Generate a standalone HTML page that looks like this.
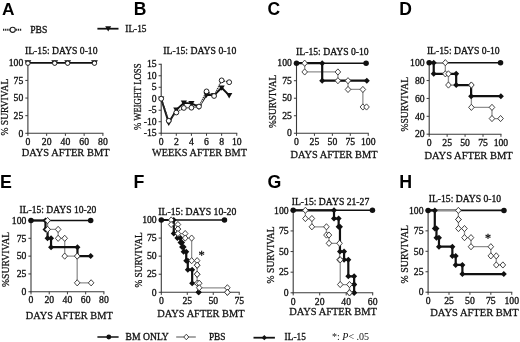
<!DOCTYPE html>
<html><head><meta charset="utf-8"><style>
html,body{margin:0;padding:0;background:#fff;}
body{width:520px;height:342px;overflow:hidden;}
svg{display:block;filter:blur(0.35px);}
</style></head><body>
<svg width="520" height="342" viewBox="0 0 520 342">
<rect width="520" height="342" fill="#fff"/>
<text x="1.90" y="14.50" font-size="17.3" text-anchor="start" font-family='"Liberation Sans", sans-serif' fill="#000" font-weight="bold">A</text>
<text x="133.70" y="14.50" font-size="17.5" text-anchor="start" font-family='"Liberation Sans", sans-serif' fill="#000" font-weight="bold">B</text>
<text x="267.60" y="14.60" font-size="17.5" text-anchor="start" font-family='"Liberation Sans", sans-serif' fill="#000" font-weight="bold">C</text>
<text x="399.20" y="14.50" font-size="17.5" text-anchor="start" font-family='"Liberation Sans", sans-serif' fill="#000" font-weight="bold">D</text>
<text x="-0.10" y="187.50" font-size="17.8" text-anchor="start" font-family='"Liberation Sans", sans-serif' fill="#000" font-weight="bold">E</text>
<text x="133.40" y="187.70" font-size="17.8" text-anchor="start" font-family='"Liberation Sans", sans-serif' fill="#000" font-weight="bold">F</text>
<text x="267.40" y="187.90" font-size="17.8" text-anchor="start" font-family='"Liberation Sans", sans-serif' fill="#000" font-weight="bold">G</text>
<text x="399.20" y="187.80" font-size="17.8" text-anchor="start" font-family='"Liberation Sans", sans-serif' fill="#000" font-weight="bold">H</text>
<polyline points="3.00,29.80 22.00,29.80" fill="none" stroke="#222" stroke-width="1.9" stroke-linejoin="miter" stroke-dasharray="1.3,0.8"/>
<circle cx="12.70" cy="29.80" r="2.6" fill="#fff" stroke="#222" stroke-width="1.1"/>
<text x="30.20" y="32.60" font-size="10" text-anchor="start" font-family='"Liberation Serif", serif' fill="#111" stroke="#111" stroke-width="0.32" textLength="17.10" lengthAdjust="spacingAndGlyphs">PBS</text>
<line x1="97.40" y1="28.70" x2="118.50" y2="28.70" stroke="#111" stroke-width="1.8"/>
<polygon points="105.20,26.25 111.20,26.25 108.20,31.50" fill="#111"/>
<text x="125.30" y="31.90" font-size="10" text-anchor="start" font-family='"Liberation Serif", serif' fill="#111" stroke="#111" stroke-width="0.32" textLength="21.20" lengthAdjust="spacingAndGlyphs">IL-15</text>
<line x1="27.90" y1="62.30" x2="27.90" y2="133.80" stroke="#3a3a3a" stroke-width="1.1"/>
<line x1="27.40" y1="133.30" x2="103.40" y2="133.30" stroke="#3a3a3a" stroke-width="1.1"/>
<line x1="27.90" y1="133.30" x2="27.90" y2="135.90" stroke="#3a3a3a" stroke-width="1"/>
<text x="27.90" y="145.00" font-size="9.7" text-anchor="middle" font-family='"Liberation Serif", serif' fill="#111" stroke="#111" stroke-width="0.32">0</text>
<line x1="46.65" y1="133.30" x2="46.65" y2="135.90" stroke="#3a3a3a" stroke-width="1"/>
<text x="46.65" y="145.00" font-size="9.7" text-anchor="middle" font-family='"Liberation Serif", serif' fill="#111" stroke="#111" stroke-width="0.32">20</text>
<line x1="65.40" y1="133.30" x2="65.40" y2="135.90" stroke="#3a3a3a" stroke-width="1"/>
<text x="65.40" y="145.00" font-size="9.7" text-anchor="middle" font-family='"Liberation Serif", serif' fill="#111" stroke="#111" stroke-width="0.32">40</text>
<line x1="84.15" y1="133.30" x2="84.15" y2="135.90" stroke="#3a3a3a" stroke-width="1"/>
<text x="84.15" y="145.00" font-size="9.7" text-anchor="middle" font-family='"Liberation Serif", serif' fill="#111" stroke="#111" stroke-width="0.32">60</text>
<line x1="102.90" y1="133.30" x2="102.90" y2="135.90" stroke="#3a3a3a" stroke-width="1"/>
<text x="102.90" y="145.00" font-size="9.7" text-anchor="middle" font-family='"Liberation Serif", serif' fill="#111" stroke="#111" stroke-width="0.32">80</text>
<line x1="25.30" y1="133.30" x2="27.90" y2="133.30" stroke="#3a3a3a" stroke-width="1"/>
<text x="23.30" y="136.50" font-size="9.7" text-anchor="end" font-family='"Liberation Serif", serif' fill="#111" stroke="#111" stroke-width="0.32">0</text>
<line x1="25.30" y1="115.68" x2="27.90" y2="115.68" stroke="#3a3a3a" stroke-width="1"/>
<text x="23.30" y="118.88" font-size="9.7" text-anchor="end" font-family='"Liberation Serif", serif' fill="#111" stroke="#111" stroke-width="0.32">25</text>
<line x1="25.30" y1="98.05" x2="27.90" y2="98.05" stroke="#3a3a3a" stroke-width="1"/>
<text x="23.30" y="101.25" font-size="9.7" text-anchor="end" font-family='"Liberation Serif", serif' fill="#111" stroke="#111" stroke-width="0.32">50</text>
<line x1="25.30" y1="80.43" x2="27.90" y2="80.43" stroke="#3a3a3a" stroke-width="1"/>
<text x="23.30" y="83.63" font-size="9.7" text-anchor="end" font-family='"Liberation Serif", serif' fill="#111" stroke="#111" stroke-width="0.32">75</text>
<line x1="25.30" y1="62.80" x2="27.90" y2="62.80" stroke="#3a3a3a" stroke-width="1"/>
<text x="23.30" y="66.00" font-size="9.7" text-anchor="end" font-family='"Liberation Serif", serif' fill="#111" stroke="#111" stroke-width="0.32">100</text>
<polyline points="27.90,62.80 94.46,62.80" fill="none" stroke="#111" stroke-width="1.8" stroke-linejoin="miter"/>
<polygon points="24.50,60.15 31.30,60.15 27.90,66.10" fill="#111"/>
<circle cx="27.90" cy="63.20" r="2.2" fill="#fff" stroke="#222" stroke-width="1"/>
<polygon points="51.31,60.15 58.11,60.15 54.71,66.10" fill="#111"/>
<circle cx="54.71" cy="63.20" r="2.2" fill="#fff" stroke="#222" stroke-width="1"/>
<polygon points="64.25,60.15 71.05,60.15 67.65,66.10" fill="#111"/>
<circle cx="67.65" cy="63.20" r="2.2" fill="#fff" stroke="#222" stroke-width="1"/>
<polygon points="91.06,60.15 97.86,60.15 94.46,66.10" fill="#111"/>
<circle cx="94.46" cy="63.20" r="2.2" fill="#fff" stroke="#222" stroke-width="1"/>
<text x="25.00" y="54.30" font-size="9.8" text-anchor="start" font-family='"Liberation Serif", serif' fill="#111" stroke="#111" stroke-width="0.32" textLength="72.50" lengthAdjust="spacingAndGlyphs">IL-15: DAYS 0-10</text>
<text x="21.70" y="155.50" font-size="10.9" text-anchor="start" font-family='"Liberation Serif", serif' fill="#111" stroke="#111" stroke-width="0.26" textLength="87.90" lengthAdjust="spacingAndGlyphs">DAYS AFTER BMT</text>
<text x="7.60" y="135.50" font-size="10.3" text-anchor="start" font-family='"Liberation Serif", serif' fill="#111" stroke="#111" stroke-width="0.26" textLength="56.75" lengthAdjust="spacingAndGlyphs" transform="rotate(-90 7.60 135.50)">% SURVIVAL</text>
<line x1="161.20" y1="63.79" x2="161.20" y2="133.70" stroke="#3a3a3a" stroke-width="1.1"/>
<line x1="160.70" y1="133.20" x2="237.25" y2="133.20" stroke="#3a3a3a" stroke-width="1.1"/>
<line x1="161.20" y1="133.20" x2="161.20" y2="135.80" stroke="#3a3a3a" stroke-width="1"/>
<text x="161.20" y="144.90" font-size="9.7" text-anchor="middle" font-family='"Liberation Serif", serif' fill="#111" stroke="#111" stroke-width="0.32">0</text>
<line x1="176.31" y1="133.20" x2="176.31" y2="135.80" stroke="#3a3a3a" stroke-width="1"/>
<text x="176.31" y="144.90" font-size="9.7" text-anchor="middle" font-family='"Liberation Serif", serif' fill="#111" stroke="#111" stroke-width="0.32">2</text>
<line x1="191.42" y1="133.20" x2="191.42" y2="135.80" stroke="#3a3a3a" stroke-width="1"/>
<text x="191.42" y="144.90" font-size="9.7" text-anchor="middle" font-family='"Liberation Serif", serif' fill="#111" stroke="#111" stroke-width="0.32">4</text>
<line x1="206.53" y1="133.20" x2="206.53" y2="135.80" stroke="#3a3a3a" stroke-width="1"/>
<text x="206.53" y="144.90" font-size="9.7" text-anchor="middle" font-family='"Liberation Serif", serif' fill="#111" stroke="#111" stroke-width="0.32">6</text>
<line x1="221.64" y1="133.20" x2="221.64" y2="135.80" stroke="#3a3a3a" stroke-width="1"/>
<text x="221.64" y="144.90" font-size="9.7" text-anchor="middle" font-family='"Liberation Serif", serif' fill="#111" stroke="#111" stroke-width="0.32">8</text>
<line x1="236.75" y1="133.20" x2="236.75" y2="135.80" stroke="#3a3a3a" stroke-width="1"/>
<text x="236.75" y="144.90" font-size="9.7" text-anchor="middle" font-family='"Liberation Serif", serif' fill="#111" stroke="#111" stroke-width="0.32">10</text>
<line x1="158.60" y1="133.20" x2="161.20" y2="133.20" stroke="#3a3a3a" stroke-width="1"/>
<text x="156.60" y="136.40" font-size="9.7" text-anchor="end" font-family='"Liberation Serif", serif' fill="#111" stroke="#111" stroke-width="0.32">-15</text>
<line x1="158.60" y1="121.71" x2="161.20" y2="121.71" stroke="#3a3a3a" stroke-width="1"/>
<text x="156.60" y="124.91" font-size="9.7" text-anchor="end" font-family='"Liberation Serif", serif' fill="#111" stroke="#111" stroke-width="0.32">-10</text>
<line x1="158.60" y1="110.23" x2="161.20" y2="110.23" stroke="#3a3a3a" stroke-width="1"/>
<text x="156.60" y="113.43" font-size="9.7" text-anchor="end" font-family='"Liberation Serif", serif' fill="#111" stroke="#111" stroke-width="0.32">-5</text>
<line x1="158.60" y1="98.74" x2="161.20" y2="98.74" stroke="#3a3a3a" stroke-width="1"/>
<text x="156.60" y="101.94" font-size="9.7" text-anchor="end" font-family='"Liberation Serif", serif' fill="#111" stroke="#111" stroke-width="0.32">0</text>
<line x1="158.60" y1="87.26" x2="161.20" y2="87.26" stroke="#3a3a3a" stroke-width="1"/>
<text x="156.60" y="90.46" font-size="9.7" text-anchor="end" font-family='"Liberation Serif", serif' fill="#111" stroke="#111" stroke-width="0.32">5</text>
<line x1="158.60" y1="75.77" x2="161.20" y2="75.77" stroke="#3a3a3a" stroke-width="1"/>
<text x="156.60" y="78.97" font-size="9.7" text-anchor="end" font-family='"Liberation Serif", serif' fill="#111" stroke="#111" stroke-width="0.32">10</text>
<line x1="158.60" y1="64.29" x2="161.20" y2="64.29" stroke="#3a3a3a" stroke-width="1"/>
<text x="156.60" y="67.49" font-size="9.7" text-anchor="end" font-family='"Liberation Serif", serif' fill="#111" stroke="#111" stroke-width="0.32">15</text>
<polyline points="161.20,98.74 168.75,122.86 176.31,109.77 183.86,102.88 191.42,103.34 198.97,106.78 206.53,94.84 214.08,95.30 221.64,87.72 229.19,95.30" fill="none" stroke="#111" stroke-width="1.9" stroke-linejoin="miter"/>
<polyline points="198.97,106.55 206.53,91.39" fill="none" stroke="#fff" stroke-width="1.8" stroke-linejoin="miter"/>
<polyline points="161.20,98.74 168.75,120.80 176.31,112.53 183.86,107.93 191.42,107.70 198.97,106.55 206.53,91.39 214.08,95.99 221.64,80.37 229.19,82.21" fill="none" stroke="#333" stroke-width="1.4" stroke-linejoin="miter" stroke-dasharray="1.2,0.8"/>
<polygon points="158.10,96.42 164.30,96.42 161.20,101.84" fill="#111"/>
<polygon points="165.66,120.54 171.85,120.54 168.75,125.96" fill="#111"/>
<polygon points="173.21,107.45 179.41,107.45 176.31,112.87" fill="#111"/>
<polygon points="180.76,100.55 186.96,100.55 183.86,105.98" fill="#111"/>
<polygon points="188.32,101.01 194.52,101.01 191.42,106.44" fill="#111"/>
<polygon points="195.88,104.46 202.07,104.46 198.97,109.88" fill="#111"/>
<polygon points="203.43,92.52 209.63,92.52 206.53,97.94" fill="#111"/>
<polygon points="210.98,92.97 217.18,92.97 214.08,98.40" fill="#111"/>
<polygon points="218.54,85.39 224.74,85.39 221.64,90.82" fill="#111"/>
<polygon points="226.09,92.97 232.29,92.97 229.19,98.40" fill="#111"/>
<circle cx="161.20" cy="98.74" r="2.4" fill="#fff" stroke="#222" stroke-width="1"/>
<circle cx="168.75" cy="120.80" r="2.4" fill="#fff" stroke="#222" stroke-width="1"/>
<circle cx="176.31" cy="112.53" r="2.4" fill="#fff" stroke="#222" stroke-width="1"/>
<circle cx="183.86" cy="107.93" r="2.4" fill="#fff" stroke="#222" stroke-width="1"/>
<circle cx="191.42" cy="107.70" r="2.4" fill="#fff" stroke="#222" stroke-width="1"/>
<circle cx="198.97" cy="106.55" r="2.4" fill="#fff" stroke="#222" stroke-width="1"/>
<circle cx="206.53" cy="91.39" r="2.4" fill="#fff" stroke="#222" stroke-width="1"/>
<circle cx="214.08" cy="95.99" r="2.4" fill="#fff" stroke="#222" stroke-width="1"/>
<circle cx="221.64" cy="80.37" r="2.4" fill="#fff" stroke="#222" stroke-width="1"/>
<circle cx="229.19" cy="82.21" r="2.4" fill="#fff" stroke="#222" stroke-width="1"/>
<text x="163.25" y="54.30" font-size="9.8" text-anchor="start" font-family='"Liberation Serif", serif' fill="#111" stroke="#111" stroke-width="0.32" textLength="73.00" lengthAdjust="spacingAndGlyphs">IL-15: DAYS 0-10</text>
<text x="152.10" y="156.40" font-size="10.9" text-anchor="start" font-family='"Liberation Serif", serif' fill="#111" stroke="#111" stroke-width="0.26" textLength="94.90" lengthAdjust="spacingAndGlyphs">WEEKS AFTER BMT</text>
<text x="140.80" y="130.00" font-size="10.3" text-anchor="start" font-family='"Liberation Serif", serif' fill="#111" stroke="#111" stroke-width="0.26" textLength="66.50" lengthAdjust="spacingAndGlyphs" transform="rotate(-90 140.80 130.00)">% WEIGHT LOSS</text>
<line x1="296.50" y1="62.70" x2="296.50" y2="133.75" stroke="#3a3a3a" stroke-width="1.1"/>
<line x1="296.00" y1="133.25" x2="368.75" y2="133.25" stroke="#3a3a3a" stroke-width="1.1"/>
<line x1="296.50" y1="133.25" x2="296.50" y2="135.85" stroke="#3a3a3a" stroke-width="1"/>
<text x="296.50" y="144.95" font-size="9.7" text-anchor="middle" font-family='"Liberation Serif", serif' fill="#111" stroke="#111" stroke-width="0.32">0</text>
<line x1="314.44" y1="133.25" x2="314.44" y2="135.85" stroke="#3a3a3a" stroke-width="1"/>
<text x="314.44" y="144.95" font-size="9.7" text-anchor="middle" font-family='"Liberation Serif", serif' fill="#111" stroke="#111" stroke-width="0.32">25</text>
<line x1="332.38" y1="133.25" x2="332.38" y2="135.85" stroke="#3a3a3a" stroke-width="1"/>
<text x="332.38" y="144.95" font-size="9.7" text-anchor="middle" font-family='"Liberation Serif", serif' fill="#111" stroke="#111" stroke-width="0.32">50</text>
<line x1="350.31" y1="133.25" x2="350.31" y2="135.85" stroke="#3a3a3a" stroke-width="1"/>
<text x="350.31" y="144.95" font-size="9.7" text-anchor="middle" font-family='"Liberation Serif", serif' fill="#111" stroke="#111" stroke-width="0.32">75</text>
<line x1="368.25" y1="133.25" x2="368.25" y2="135.85" stroke="#3a3a3a" stroke-width="1"/>
<text x="368.25" y="144.95" font-size="9.7" text-anchor="middle" font-family='"Liberation Serif", serif' fill="#111" stroke="#111" stroke-width="0.32">100</text>
<line x1="293.90" y1="133.25" x2="296.50" y2="133.25" stroke="#3a3a3a" stroke-width="1"/>
<text x="291.90" y="136.45" font-size="9.7" text-anchor="end" font-family='"Liberation Serif", serif' fill="#111" stroke="#111" stroke-width="0.32">0</text>
<line x1="293.90" y1="115.74" x2="296.50" y2="115.74" stroke="#3a3a3a" stroke-width="1"/>
<text x="291.90" y="118.94" font-size="9.7" text-anchor="end" font-family='"Liberation Serif", serif' fill="#111" stroke="#111" stroke-width="0.32">25</text>
<line x1="293.90" y1="98.22" x2="296.50" y2="98.22" stroke="#3a3a3a" stroke-width="1"/>
<text x="291.90" y="101.42" font-size="9.7" text-anchor="end" font-family='"Liberation Serif", serif' fill="#111" stroke="#111" stroke-width="0.32">50</text>
<line x1="293.90" y1="80.71" x2="296.50" y2="80.71" stroke="#3a3a3a" stroke-width="1"/>
<text x="291.90" y="83.91" font-size="9.7" text-anchor="end" font-family='"Liberation Serif", serif' fill="#111" stroke="#111" stroke-width="0.32">75</text>
<line x1="293.90" y1="63.20" x2="296.50" y2="63.20" stroke="#3a3a3a" stroke-width="1"/>
<text x="291.90" y="66.40" font-size="9.7" text-anchor="end" font-family='"Liberation Serif", serif' fill="#111" stroke="#111" stroke-width="0.32">100</text>
<polyline points="296.50,63.20 366.10,63.20" fill="none" stroke="#111" stroke-width="1.6" stroke-linejoin="miter"/>
<polyline points="296.50,63.20 304.68,63.20 304.68,71.96 337.90,71.96 337.90,80.71 348.02,80.71 348.02,89.47 362.87,89.47 362.87,106.98 366.53,106.98" fill="none" stroke="#909090" stroke-width="1.3" stroke-linejoin="miter"/>
<polyline points="296.50,63.20 322.19,63.20 322.19,80.71 366.81,80.71" fill="none" stroke="#111" stroke-width="2.2" stroke-linejoin="miter"/>
<circle cx="296.50" cy="63.20" r="2.75" fill="#111" stroke="none" stroke-width="1"/>
<circle cx="366.10" cy="63.20" r="2.75" fill="#111" stroke="none" stroke-width="1"/>
<polygon points="322.19,60.20 325.19,63.20 322.19,66.20 319.19,63.20" fill="#111" stroke="none" stroke-width="1"/>
<polygon points="322.19,77.71 325.19,80.71 322.19,83.71 319.19,80.71" fill="#111" stroke="none" stroke-width="1"/>
<polygon points="366.81,77.71 369.81,80.71 366.81,83.71 363.81,80.71" fill="#111" stroke="none" stroke-width="1"/>
<polygon points="304.68,60.10 307.47,63.20 304.68,66.30 301.89,63.20" fill="#fff" stroke="#333" stroke-width="0.9"/>
<polygon points="304.68,68.86 307.47,71.96 304.68,75.06 301.89,71.96" fill="#fff" stroke="#333" stroke-width="0.9"/>
<polygon points="337.90,68.86 340.69,71.96 337.90,75.06 335.11,71.96" fill="#fff" stroke="#333" stroke-width="0.9"/>
<polygon points="337.90,77.61 340.69,80.71 337.90,83.81 335.11,80.71" fill="#fff" stroke="#333" stroke-width="0.9"/>
<polygon points="348.02,77.61 350.81,80.71 348.02,83.81 345.23,80.71" fill="#fff" stroke="#333" stroke-width="0.9"/>
<polygon points="348.02,86.37 350.81,89.47 348.02,92.57 345.23,89.47" fill="#fff" stroke="#333" stroke-width="0.9"/>
<polygon points="362.87,86.37 365.66,89.47 362.87,92.57 360.08,89.47" fill="#fff" stroke="#333" stroke-width="0.9"/>
<polygon points="362.87,103.88 365.66,106.98 362.87,110.08 360.08,106.98" fill="#fff" stroke="#333" stroke-width="0.9"/>
<polygon points="366.53,103.88 369.32,106.98 366.53,110.08 363.74,106.98" fill="#fff" stroke="#333" stroke-width="0.9"/>
<text x="296.10" y="55.20" font-size="9.8" text-anchor="start" font-family='"Liberation Serif", serif' fill="#111" stroke="#111" stroke-width="0.32" textLength="72.60" lengthAdjust="spacingAndGlyphs">IL-15: DAYS 0-10</text>
<text x="290.40" y="157.90" font-size="10.9" text-anchor="start" font-family='"Liberation Serif", serif' fill="#111" stroke="#111" stroke-width="0.26" textLength="87.20" lengthAdjust="spacingAndGlyphs">DAYS AFTER BMT</text>
<text x="275.70" y="128.00" font-size="10.3" text-anchor="start" font-family='"Liberation Serif", serif' fill="#111" stroke="#111" stroke-width="0.26" textLength="53.20" lengthAdjust="spacingAndGlyphs" transform="rotate(-90 275.70 128.00)">%SURVIVAL</text>
<line x1="429.20" y1="62.18" x2="429.20" y2="134.70" stroke="#3a3a3a" stroke-width="1.1"/>
<line x1="428.70" y1="134.20" x2="501.45" y2="134.20" stroke="#3a3a3a" stroke-width="1.1"/>
<line x1="429.20" y1="134.20" x2="429.20" y2="136.80" stroke="#3a3a3a" stroke-width="1"/>
<text x="429.20" y="145.90" font-size="9.7" text-anchor="middle" font-family='"Liberation Serif", serif' fill="#111" stroke="#111" stroke-width="0.32">0</text>
<line x1="447.14" y1="134.20" x2="447.14" y2="136.80" stroke="#3a3a3a" stroke-width="1"/>
<text x="447.14" y="145.90" font-size="9.7" text-anchor="middle" font-family='"Liberation Serif", serif' fill="#111" stroke="#111" stroke-width="0.32">25</text>
<line x1="465.07" y1="134.20" x2="465.07" y2="136.80" stroke="#3a3a3a" stroke-width="1"/>
<text x="465.07" y="145.90" font-size="9.7" text-anchor="middle" font-family='"Liberation Serif", serif' fill="#111" stroke="#111" stroke-width="0.32">50</text>
<line x1="483.01" y1="134.20" x2="483.01" y2="136.80" stroke="#3a3a3a" stroke-width="1"/>
<text x="483.01" y="145.90" font-size="9.7" text-anchor="middle" font-family='"Liberation Serif", serif' fill="#111" stroke="#111" stroke-width="0.32">75</text>
<line x1="500.95" y1="134.20" x2="500.95" y2="136.80" stroke="#3a3a3a" stroke-width="1"/>
<text x="500.95" y="145.90" font-size="9.7" text-anchor="middle" font-family='"Liberation Serif", serif' fill="#111" stroke="#111" stroke-width="0.32">100</text>
<line x1="426.60" y1="134.20" x2="429.20" y2="134.20" stroke="#3a3a3a" stroke-width="1"/>
<text x="424.60" y="137.40" font-size="9.7" text-anchor="end" font-family='"Liberation Serif", serif' fill="#111" stroke="#111" stroke-width="0.32">20</text>
<line x1="426.60" y1="116.32" x2="429.20" y2="116.32" stroke="#3a3a3a" stroke-width="1"/>
<text x="424.60" y="119.52" font-size="9.7" text-anchor="end" font-family='"Liberation Serif", serif' fill="#111" stroke="#111" stroke-width="0.32">40</text>
<line x1="426.60" y1="98.44" x2="429.20" y2="98.44" stroke="#3a3a3a" stroke-width="1"/>
<text x="424.60" y="101.64" font-size="9.7" text-anchor="end" font-family='"Liberation Serif", serif' fill="#111" stroke="#111" stroke-width="0.32">60</text>
<line x1="426.60" y1="80.56" x2="429.20" y2="80.56" stroke="#3a3a3a" stroke-width="1"/>
<text x="424.60" y="83.76" font-size="9.7" text-anchor="end" font-family='"Liberation Serif", serif' fill="#111" stroke="#111" stroke-width="0.32">80</text>
<line x1="426.60" y1="62.68" x2="429.20" y2="62.68" stroke="#3a3a3a" stroke-width="1"/>
<text x="424.60" y="65.88" font-size="9.7" text-anchor="end" font-family='"Liberation Serif", serif' fill="#111" stroke="#111" stroke-width="0.32">100</text>
<polyline points="429.20,62.68 500.52,62.68" fill="none" stroke="#111" stroke-width="1.6" stroke-linejoin="miter"/>
<polyline points="429.20,62.68 445.34,62.68 445.34,73.85 448.43,73.85 448.43,85.03 471.39,85.03 471.39,107.38 491.98,107.38 491.98,118.55 500.59,118.55" fill="none" stroke="#909090" stroke-width="1.3" stroke-linejoin="miter"/>
<polyline points="429.20,62.68 433.72,62.68 433.72,73.85 456.18,73.85 456.18,85.03 471.10,85.03 471.10,96.20 500.88,96.20" fill="none" stroke="#111" stroke-width="2.2" stroke-linejoin="miter"/>
<circle cx="429.20" cy="62.68" r="2.75" fill="#111" stroke="none" stroke-width="1"/>
<circle cx="500.52" cy="62.68" r="2.75" fill="#111" stroke="none" stroke-width="1"/>
<polygon points="433.72,59.68 436.72,62.68 433.72,65.68 430.72,62.68" fill="#111" stroke="none" stroke-width="1"/>
<polygon points="433.72,70.85 436.72,73.85 433.72,76.85 430.72,73.85" fill="#111" stroke="none" stroke-width="1"/>
<polygon points="456.18,70.85 459.18,73.85 456.18,76.85 453.18,73.85" fill="#111" stroke="none" stroke-width="1"/>
<polygon points="456.18,82.03 459.18,85.03 456.18,88.03 453.18,85.03" fill="#111" stroke="none" stroke-width="1"/>
<polygon points="471.10,82.03 474.10,85.03 471.10,88.03 468.10,85.03" fill="#111" stroke="none" stroke-width="1"/>
<polygon points="471.10,93.20 474.10,96.20 471.10,99.20 468.10,96.20" fill="#111" stroke="none" stroke-width="1"/>
<polygon points="500.88,93.20 503.88,96.20 500.88,99.20 497.88,96.20" fill="#111" stroke="none" stroke-width="1"/>
<polygon points="445.34,59.58 448.13,62.68 445.34,65.78 442.55,62.68" fill="#fff" stroke="#333" stroke-width="0.9"/>
<polygon points="445.34,70.75 448.13,73.85 445.34,76.95 442.55,73.85" fill="#fff" stroke="#333" stroke-width="0.9"/>
<polygon points="448.43,70.75 451.22,73.85 448.43,76.95 445.64,73.85" fill="#fff" stroke="#333" stroke-width="0.9"/>
<polygon points="448.43,81.93 451.22,85.03 448.43,88.13 445.64,85.03" fill="#fff" stroke="#333" stroke-width="0.9"/>
<polygon points="471.39,81.93 474.18,85.03 471.39,88.13 468.60,85.03" fill="#fff" stroke="#333" stroke-width="0.9"/>
<polygon points="471.39,104.28 474.18,107.38 471.39,110.48 468.60,107.38" fill="#fff" stroke="#333" stroke-width="0.9"/>
<polygon points="491.98,104.28 494.77,107.38 491.98,110.48 489.19,107.38" fill="#fff" stroke="#333" stroke-width="0.9"/>
<polygon points="491.98,115.45 494.77,118.55 491.98,121.65 489.19,118.55" fill="#fff" stroke="#333" stroke-width="0.9"/>
<polygon points="500.59,115.45 503.38,118.55 500.59,121.65 497.80,118.55" fill="#fff" stroke="#333" stroke-width="0.9"/>
<text x="426.90" y="54.30" font-size="9.8" text-anchor="start" font-family='"Liberation Serif", serif' fill="#111" stroke="#111" stroke-width="0.32" textLength="72.70" lengthAdjust="spacingAndGlyphs">IL-15: DAYS 0-10</text>
<text x="424.40" y="159.00" font-size="10.9" text-anchor="start" font-family='"Liberation Serif", serif' fill="#111" stroke="#111" stroke-width="0.26" textLength="88.40" lengthAdjust="spacingAndGlyphs">DAYS AFTER BMT</text>
<text x="407.60" y="131.50" font-size="10.3" text-anchor="start" font-family='"Liberation Serif", serif' fill="#111" stroke="#111" stroke-width="0.26" textLength="54.60" lengthAdjust="spacingAndGlyphs" transform="rotate(-90 407.60 131.50)">%SURVIVAL</text>
<line x1="31.00" y1="220.00" x2="31.00" y2="292.25" stroke="#3a3a3a" stroke-width="1.1"/>
<line x1="30.50" y1="291.75" x2="104.38" y2="291.75" stroke="#3a3a3a" stroke-width="1.1"/>
<line x1="31.00" y1="291.75" x2="31.00" y2="294.35" stroke="#3a3a3a" stroke-width="1"/>
<text x="31.00" y="303.45" font-size="9.7" text-anchor="middle" font-family='"Liberation Serif", serif' fill="#111" stroke="#111" stroke-width="0.32">0</text>
<line x1="49.22" y1="291.75" x2="49.22" y2="294.35" stroke="#3a3a3a" stroke-width="1"/>
<text x="49.22" y="303.45" font-size="9.7" text-anchor="middle" font-family='"Liberation Serif", serif' fill="#111" stroke="#111" stroke-width="0.32">20</text>
<line x1="67.44" y1="291.75" x2="67.44" y2="294.35" stroke="#3a3a3a" stroke-width="1"/>
<text x="67.44" y="303.45" font-size="9.7" text-anchor="middle" font-family='"Liberation Serif", serif' fill="#111" stroke="#111" stroke-width="0.32">40</text>
<line x1="85.66" y1="291.75" x2="85.66" y2="294.35" stroke="#3a3a3a" stroke-width="1"/>
<text x="85.66" y="303.45" font-size="9.7" text-anchor="middle" font-family='"Liberation Serif", serif' fill="#111" stroke="#111" stroke-width="0.32">60</text>
<line x1="103.88" y1="291.75" x2="103.88" y2="294.35" stroke="#3a3a3a" stroke-width="1"/>
<text x="103.88" y="303.45" font-size="9.7" text-anchor="middle" font-family='"Liberation Serif", serif' fill="#111" stroke="#111" stroke-width="0.32">80</text>
<line x1="28.40" y1="291.75" x2="31.00" y2="291.75" stroke="#3a3a3a" stroke-width="1"/>
<text x="26.40" y="294.95" font-size="9.7" text-anchor="end" font-family='"Liberation Serif", serif' fill="#111" stroke="#111" stroke-width="0.32">0</text>
<line x1="28.40" y1="273.94" x2="31.00" y2="273.94" stroke="#3a3a3a" stroke-width="1"/>
<text x="26.40" y="277.14" font-size="9.7" text-anchor="end" font-family='"Liberation Serif", serif' fill="#111" stroke="#111" stroke-width="0.32">25</text>
<line x1="28.40" y1="256.12" x2="31.00" y2="256.12" stroke="#3a3a3a" stroke-width="1"/>
<text x="26.40" y="259.32" font-size="9.7" text-anchor="end" font-family='"Liberation Serif", serif' fill="#111" stroke="#111" stroke-width="0.32">50</text>
<line x1="28.40" y1="238.31" x2="31.00" y2="238.31" stroke="#3a3a3a" stroke-width="1"/>
<text x="26.40" y="241.51" font-size="9.7" text-anchor="end" font-family='"Liberation Serif", serif' fill="#111" stroke="#111" stroke-width="0.32">75</text>
<line x1="28.40" y1="220.50" x2="31.00" y2="220.50" stroke="#3a3a3a" stroke-width="1"/>
<text x="26.40" y="223.70" font-size="9.7" text-anchor="end" font-family='"Liberation Serif", serif' fill="#111" stroke="#111" stroke-width="0.32">100</text>
<polyline points="31.00,220.50 90.67,220.50" fill="none" stroke="#111" stroke-width="1.6" stroke-linejoin="miter"/>
<polyline points="31.00,220.50 47.58,220.50 47.58,229.41 58.15,229.41 58.15,238.31 64.71,238.31 64.71,256.12 77.19,256.12 77.19,282.84 91.13,282.84" fill="none" stroke="#909090" stroke-width="1.3" stroke-linejoin="miter"/>
<polyline points="31.00,220.50 45.48,220.50 45.48,229.41 47.58,229.41 47.58,238.31 51.04,238.31 51.04,247.22 77.46,247.22 77.46,256.12 90.67,256.12" fill="none" stroke="#111" stroke-width="2.2" stroke-linejoin="miter"/>
<circle cx="31.00" cy="220.50" r="2.75" fill="#111" stroke="none" stroke-width="1"/>
<circle cx="90.67" cy="220.50" r="2.75" fill="#111" stroke="none" stroke-width="1"/>
<polygon points="45.48,217.50 48.48,220.50 45.48,223.50 42.48,220.50" fill="#111" stroke="none" stroke-width="1"/>
<polygon points="45.48,226.41 48.48,229.41 45.48,232.41 42.48,229.41" fill="#111" stroke="none" stroke-width="1"/>
<polygon points="47.58,226.41 50.58,229.41 47.58,232.41 44.58,229.41" fill="#111" stroke="none" stroke-width="1"/>
<polygon points="47.58,235.31 50.58,238.31 47.58,241.31 44.58,238.31" fill="#111" stroke="none" stroke-width="1"/>
<polygon points="51.04,235.31 54.04,238.31 51.04,241.31 48.04,238.31" fill="#111" stroke="none" stroke-width="1"/>
<polygon points="51.04,244.22 54.04,247.22 51.04,250.22 48.04,247.22" fill="#111" stroke="none" stroke-width="1"/>
<polygon points="77.46,244.22 80.46,247.22 77.46,250.22 74.46,247.22" fill="#111" stroke="none" stroke-width="1"/>
<polygon points="77.46,253.12 80.46,256.12 77.46,259.12 74.46,256.12" fill="#111" stroke="none" stroke-width="1"/>
<polygon points="90.67,253.12 93.67,256.12 90.67,259.12 87.67,256.12" fill="#111" stroke="none" stroke-width="1"/>
<polygon points="47.58,217.40 50.37,220.50 47.58,223.60 44.79,220.50" fill="#fff" stroke="#333" stroke-width="0.9"/>
<polygon points="47.58,226.31 50.37,229.41 47.58,232.51 44.79,229.41" fill="#fff" stroke="#333" stroke-width="0.9"/>
<polygon points="58.15,226.31 60.94,229.41 58.15,232.51 55.36,229.41" fill="#fff" stroke="#333" stroke-width="0.9"/>
<polygon points="58.15,235.21 60.94,238.31 58.15,241.41 55.36,238.31" fill="#fff" stroke="#333" stroke-width="0.9"/>
<polygon points="64.71,235.21 67.50,238.31 64.71,241.41 61.92,238.31" fill="#fff" stroke="#333" stroke-width="0.9"/>
<polygon points="64.71,253.03 67.50,256.12 64.71,259.23 61.92,256.12" fill="#fff" stroke="#333" stroke-width="0.9"/>
<polygon points="77.19,253.03 79.98,256.12 77.19,259.23 74.40,256.12" fill="#fff" stroke="#333" stroke-width="0.9"/>
<polygon points="77.19,279.74 79.98,282.84 77.19,285.94 74.40,282.84" fill="#fff" stroke="#333" stroke-width="0.9"/>
<polygon points="91.13,279.74 93.92,282.84 91.13,285.94 88.34,282.84" fill="#fff" stroke="#333" stroke-width="0.9"/>
<text x="19.50" y="212.80" font-size="9.8" text-anchor="start" font-family='"Liberation Serif", serif' fill="#111" stroke="#111" stroke-width="0.32" textLength="76.75" lengthAdjust="spacingAndGlyphs">IL-15: DAYS 10-20</text>
<text x="25.80" y="319.10" font-size="10.9" text-anchor="start" font-family='"Liberation Serif", serif' fill="#111" stroke="#111" stroke-width="0.26" textLength="86.90" lengthAdjust="spacingAndGlyphs">DAYS AFTER BMT</text>
<text x="8.80" y="287.00" font-size="10.3" text-anchor="start" font-family='"Liberation Serif", serif' fill="#111" stroke="#111" stroke-width="0.26" textLength="55.10" lengthAdjust="spacingAndGlyphs" transform="rotate(-90 8.80 287.00)">%SURVIVAL</text>
<line x1="161.30" y1="219.50" x2="161.30" y2="292.80" stroke="#3a3a3a" stroke-width="1.1"/>
<line x1="160.80" y1="292.30" x2="239.73" y2="292.30" stroke="#3a3a3a" stroke-width="1.1"/>
<line x1="161.30" y1="292.30" x2="161.30" y2="294.90" stroke="#3a3a3a" stroke-width="1"/>
<text x="161.30" y="304.00" font-size="9.7" text-anchor="middle" font-family='"Liberation Serif", serif' fill="#111" stroke="#111" stroke-width="0.32">0</text>
<line x1="187.28" y1="292.30" x2="187.28" y2="294.90" stroke="#3a3a3a" stroke-width="1"/>
<text x="187.28" y="304.00" font-size="9.7" text-anchor="middle" font-family='"Liberation Serif", serif' fill="#111" stroke="#111" stroke-width="0.32">25</text>
<line x1="213.25" y1="292.30" x2="213.25" y2="294.90" stroke="#3a3a3a" stroke-width="1"/>
<text x="213.25" y="304.00" font-size="9.7" text-anchor="middle" font-family='"Liberation Serif", serif' fill="#111" stroke="#111" stroke-width="0.32">50</text>
<line x1="239.23" y1="292.30" x2="239.23" y2="294.90" stroke="#3a3a3a" stroke-width="1"/>
<text x="239.23" y="304.00" font-size="9.7" text-anchor="middle" font-family='"Liberation Serif", serif' fill="#111" stroke="#111" stroke-width="0.32">75</text>
<line x1="158.70" y1="292.30" x2="161.30" y2="292.30" stroke="#3a3a3a" stroke-width="1"/>
<text x="156.70" y="295.50" font-size="9.7" text-anchor="end" font-family='"Liberation Serif", serif' fill="#111" stroke="#111" stroke-width="0.32">0</text>
<line x1="158.70" y1="274.23" x2="161.30" y2="274.23" stroke="#3a3a3a" stroke-width="1"/>
<text x="156.70" y="277.43" font-size="9.7" text-anchor="end" font-family='"Liberation Serif", serif' fill="#111" stroke="#111" stroke-width="0.32">25</text>
<line x1="158.70" y1="256.15" x2="161.30" y2="256.15" stroke="#3a3a3a" stroke-width="1"/>
<text x="156.70" y="259.35" font-size="9.7" text-anchor="end" font-family='"Liberation Serif", serif' fill="#111" stroke="#111" stroke-width="0.32">50</text>
<line x1="158.70" y1="238.08" x2="161.30" y2="238.08" stroke="#3a3a3a" stroke-width="1"/>
<text x="156.70" y="241.28" font-size="9.7" text-anchor="end" font-family='"Liberation Serif", serif' fill="#111" stroke="#111" stroke-width="0.32">75</text>
<line x1="158.70" y1="220.00" x2="161.30" y2="220.00" stroke="#3a3a3a" stroke-width="1"/>
<text x="156.70" y="223.20" font-size="9.7" text-anchor="end" font-family='"Liberation Serif", serif' fill="#111" stroke="#111" stroke-width="0.32">100</text>
<polyline points="161.30,220.00 224.47,220.00" fill="none" stroke="#111" stroke-width="1.6" stroke-linejoin="miter"/>
<polyline points="161.30,220.00 171.17,220.00 171.17,224.52 177.92,224.52 177.92,229.04 177.92,229.04 177.92,233.56 185.20,233.56 185.20,238.08 191.64,238.08 191.64,260.67 197.15,260.67 197.15,265.19 197.15,265.19 197.15,274.23 197.15,274.23 197.15,283.26 199.22,283.26 199.22,287.78 227.38,287.78 227.38,292.30 227.38,292.30" fill="none" stroke="#909090" stroke-width="1.3" stroke-linejoin="miter"/>
<polyline points="161.30,220.00 173.77,220.00 173.77,233.56 177.40,233.56 177.40,238.08 180.52,238.08 180.52,242.59 182.08,242.59 182.08,247.11 183.64,247.11 183.64,251.63 186.24,251.63 186.24,260.67 187.79,260.67 187.79,269.71 192.16,269.71 192.16,283.26 198.60,283.26 198.60,292.30 198.60,292.30" fill="none" stroke="#111" stroke-width="2.2" stroke-linejoin="miter"/>
<circle cx="161.30" cy="220.00" r="2.75" fill="#111" stroke="none" stroke-width="1"/>
<circle cx="224.47" cy="220.00" r="2.75" fill="#111" stroke="none" stroke-width="1"/>
<polygon points="173.77,217.00 176.77,220.00 173.77,223.00 170.77,220.00" fill="#111" stroke="none" stroke-width="1"/>
<polygon points="173.77,230.56 176.77,233.56 173.77,236.56 170.77,233.56" fill="#111" stroke="none" stroke-width="1"/>
<polygon points="177.40,230.56 180.40,233.56 177.40,236.56 174.40,233.56" fill="#111" stroke="none" stroke-width="1"/>
<polygon points="177.40,235.08 180.40,238.08 177.40,241.08 174.40,238.08" fill="#111" stroke="none" stroke-width="1"/>
<polygon points="180.52,235.08 183.52,238.08 180.52,241.08 177.52,238.08" fill="#111" stroke="none" stroke-width="1"/>
<polygon points="180.52,239.59 183.52,242.59 180.52,245.59 177.52,242.59" fill="#111" stroke="none" stroke-width="1"/>
<polygon points="182.08,239.59 185.08,242.59 182.08,245.59 179.08,242.59" fill="#111" stroke="none" stroke-width="1"/>
<polygon points="182.08,244.11 185.08,247.11 182.08,250.11 179.08,247.11" fill="#111" stroke="none" stroke-width="1"/>
<polygon points="183.64,244.11 186.64,247.11 183.64,250.11 180.64,247.11" fill="#111" stroke="none" stroke-width="1"/>
<polygon points="183.64,248.63 186.64,251.63 183.64,254.63 180.64,251.63" fill="#111" stroke="none" stroke-width="1"/>
<polygon points="186.24,248.63 189.24,251.63 186.24,254.63 183.24,251.63" fill="#111" stroke="none" stroke-width="1"/>
<polygon points="186.24,257.67 189.24,260.67 186.24,263.67 183.24,260.67" fill="#111" stroke="none" stroke-width="1"/>
<polygon points="187.79,257.67 190.79,260.67 187.79,263.67 184.79,260.67" fill="#111" stroke="none" stroke-width="1"/>
<polygon points="187.79,266.71 190.79,269.71 187.79,272.71 184.79,269.71" fill="#111" stroke="none" stroke-width="1"/>
<polygon points="192.16,266.71 195.16,269.71 192.16,272.71 189.16,269.71" fill="#111" stroke="none" stroke-width="1"/>
<polygon points="192.16,280.26 195.16,283.26 192.16,286.26 189.16,283.26" fill="#111" stroke="none" stroke-width="1"/>
<polygon points="198.60,280.26 201.60,283.26 198.60,286.26 195.60,283.26" fill="#111" stroke="none" stroke-width="1"/>
<polygon points="198.60,289.30 201.60,292.30 198.60,295.30 195.60,292.30" fill="#111" stroke="none" stroke-width="1"/>
<polygon points="198.60,289.30 201.60,292.30 198.60,295.30 195.60,292.30" fill="#111" stroke="none" stroke-width="1"/>
<polygon points="171.17,216.90 173.96,220.00 171.17,223.10 168.38,220.00" fill="#fff" stroke="#333" stroke-width="0.9"/>
<polygon points="171.17,221.42 173.96,224.52 171.17,227.62 168.38,224.52" fill="#fff" stroke="#333" stroke-width="0.9"/>
<polygon points="177.92,221.42 180.71,224.52 177.92,227.62 175.13,224.52" fill="#fff" stroke="#333" stroke-width="0.9"/>
<polygon points="177.92,225.94 180.71,229.04 177.92,232.14 175.13,229.04" fill="#fff" stroke="#333" stroke-width="0.9"/>
<polygon points="177.92,225.94 180.71,229.04 177.92,232.14 175.13,229.04" fill="#fff" stroke="#333" stroke-width="0.9"/>
<polygon points="177.92,230.46 180.71,233.56 177.92,236.66 175.13,233.56" fill="#fff" stroke="#333" stroke-width="0.9"/>
<polygon points="185.20,230.46 187.99,233.56 185.20,236.66 182.41,233.56" fill="#fff" stroke="#333" stroke-width="0.9"/>
<polygon points="185.20,234.98 187.99,238.08 185.20,241.18 182.41,238.08" fill="#fff" stroke="#333" stroke-width="0.9"/>
<polygon points="191.64,234.98 194.43,238.08 191.64,241.18 188.85,238.08" fill="#fff" stroke="#333" stroke-width="0.9"/>
<polygon points="191.64,257.57 194.43,260.67 191.64,263.77 188.85,260.67" fill="#fff" stroke="#333" stroke-width="0.9"/>
<polygon points="197.15,257.57 199.94,260.67 197.15,263.77 194.36,260.67" fill="#fff" stroke="#333" stroke-width="0.9"/>
<polygon points="197.15,262.09 199.94,265.19 197.15,268.29 194.36,265.19" fill="#fff" stroke="#333" stroke-width="0.9"/>
<polygon points="197.15,262.09 199.94,265.19 197.15,268.29 194.36,265.19" fill="#fff" stroke="#333" stroke-width="0.9"/>
<polygon points="197.15,271.12 199.94,274.23 197.15,277.33 194.36,274.23" fill="#fff" stroke="#333" stroke-width="0.9"/>
<polygon points="197.15,271.12 199.94,274.23 197.15,277.33 194.36,274.23" fill="#fff" stroke="#333" stroke-width="0.9"/>
<polygon points="197.15,280.16 199.94,283.26 197.15,286.36 194.36,283.26" fill="#fff" stroke="#333" stroke-width="0.9"/>
<polygon points="199.22,280.16 202.01,283.26 199.22,286.36 196.43,283.26" fill="#fff" stroke="#333" stroke-width="0.9"/>
<polygon points="199.22,284.68 202.01,287.78 199.22,290.88 196.43,287.78" fill="#fff" stroke="#333" stroke-width="0.9"/>
<polygon points="227.38,284.68 230.17,287.78 227.38,290.88 224.59,287.78" fill="#fff" stroke="#333" stroke-width="0.9"/>
<polygon points="227.38,289.20 230.17,292.30 227.38,295.40 224.59,292.30" fill="#fff" stroke="#333" stroke-width="0.9"/>
<polygon points="227.38,289.20 230.17,292.30 227.38,295.40 224.59,292.30" fill="#fff" stroke="#333" stroke-width="0.9"/>
<text x="201.50" y="259.30" font-size="12.5" text-anchor="middle" font-family='"Liberation Serif", serif' fill="#111" stroke="#111" stroke-width="0.32">*</text>
<text x="158.25" y="214.80" font-size="9.8" text-anchor="start" font-family='"Liberation Serif", serif' fill="#111" stroke="#111" stroke-width="0.32" textLength="78.00" lengthAdjust="spacingAndGlyphs">IL-15: DAYS 10-20</text>
<text x="157.30" y="317.10" font-size="10.9" text-anchor="start" font-family='"Liberation Serif", serif' fill="#111" stroke="#111" stroke-width="0.26" textLength="87.30" lengthAdjust="spacingAndGlyphs">DAYS AFTER BMT</text>
<text x="142.00" y="287.60" font-size="10.3" text-anchor="start" font-family='"Liberation Serif", serif' fill="#111" stroke="#111" stroke-width="0.26" textLength="55.20" lengthAdjust="spacingAndGlyphs" transform="rotate(-90 142.00 287.60)">% SURVIVAL</text>
<line x1="293.20" y1="209.80" x2="293.20" y2="293.30" stroke="#3a3a3a" stroke-width="1.1"/>
<line x1="292.70" y1="292.80" x2="373.20" y2="292.80" stroke="#3a3a3a" stroke-width="1.1"/>
<line x1="293.20" y1="292.80" x2="293.20" y2="295.40" stroke="#3a3a3a" stroke-width="1"/>
<text x="293.20" y="304.50" font-size="9.7" text-anchor="middle" font-family='"Liberation Serif", serif' fill="#111" stroke="#111" stroke-width="0.32">0</text>
<line x1="319.70" y1="292.80" x2="319.70" y2="295.40" stroke="#3a3a3a" stroke-width="1"/>
<text x="319.70" y="304.50" font-size="9.7" text-anchor="middle" font-family='"Liberation Serif", serif' fill="#111" stroke="#111" stroke-width="0.32">20</text>
<line x1="346.20" y1="292.80" x2="346.20" y2="295.40" stroke="#3a3a3a" stroke-width="1"/>
<text x="346.20" y="304.50" font-size="9.7" text-anchor="middle" font-family='"Liberation Serif", serif' fill="#111" stroke="#111" stroke-width="0.32">40</text>
<line x1="372.70" y1="292.80" x2="372.70" y2="295.40" stroke="#3a3a3a" stroke-width="1"/>
<text x="372.70" y="304.50" font-size="9.7" text-anchor="middle" font-family='"Liberation Serif", serif' fill="#111" stroke="#111" stroke-width="0.32">60</text>
<line x1="290.60" y1="292.80" x2="293.20" y2="292.80" stroke="#3a3a3a" stroke-width="1"/>
<text x="288.60" y="296.00" font-size="9.7" text-anchor="end" font-family='"Liberation Serif", serif' fill="#111" stroke="#111" stroke-width="0.32">0</text>
<line x1="290.60" y1="272.18" x2="293.20" y2="272.18" stroke="#3a3a3a" stroke-width="1"/>
<text x="288.60" y="275.38" font-size="9.7" text-anchor="end" font-family='"Liberation Serif", serif' fill="#111" stroke="#111" stroke-width="0.32">25</text>
<line x1="290.60" y1="251.55" x2="293.20" y2="251.55" stroke="#3a3a3a" stroke-width="1"/>
<text x="288.60" y="254.75" font-size="9.7" text-anchor="end" font-family='"Liberation Serif", serif' fill="#111" stroke="#111" stroke-width="0.32">50</text>
<line x1="290.60" y1="230.93" x2="293.20" y2="230.93" stroke="#3a3a3a" stroke-width="1"/>
<text x="288.60" y="234.12" font-size="9.7" text-anchor="end" font-family='"Liberation Serif", serif' fill="#111" stroke="#111" stroke-width="0.32">75</text>
<line x1="290.60" y1="210.30" x2="293.20" y2="210.30" stroke="#3a3a3a" stroke-width="1"/>
<text x="288.60" y="213.50" font-size="9.7" text-anchor="end" font-family='"Liberation Serif", serif' fill="#111" stroke="#111" stroke-width="0.32">100</text>
<polyline points="293.20,210.30 372.44,210.30" fill="none" stroke="#111" stroke-width="1.6" stroke-linejoin="miter"/>
<polyline points="293.20,210.30 305.39,210.30 305.39,218.55 311.88,218.55 311.88,226.80 326.46,226.80 326.46,235.05 328.97,235.05 328.97,243.30 339.57,243.30 339.57,259.80 340.24,259.80 340.24,284.55 349.51,284.55 349.51,292.80 349.51,292.80" fill="none" stroke="#909090" stroke-width="1.3" stroke-linejoin="miter"/>
<polyline points="293.20,210.30 334.01,210.30 334.01,218.55 338.65,218.55 338.65,226.80 339.97,226.80 339.97,251.55 344.08,251.55 344.08,259.80 348.32,259.80 348.32,276.30 354.15,276.30 354.15,284.55 354.15,284.55 354.15,292.80 354.15,292.80" fill="none" stroke="#111" stroke-width="2.2" stroke-linejoin="miter"/>
<circle cx="293.20" cy="210.30" r="2.75" fill="#111" stroke="none" stroke-width="1"/>
<circle cx="372.44" cy="210.30" r="2.75" fill="#111" stroke="none" stroke-width="1"/>
<polygon points="334.01,207.30 337.01,210.30 334.01,213.30 331.01,210.30" fill="#111" stroke="none" stroke-width="1"/>
<polygon points="334.01,215.55 337.01,218.55 334.01,221.55 331.01,218.55" fill="#111" stroke="none" stroke-width="1"/>
<polygon points="338.65,215.55 341.65,218.55 338.65,221.55 335.65,218.55" fill="#111" stroke="none" stroke-width="1"/>
<polygon points="338.65,223.80 341.65,226.80 338.65,229.80 335.65,226.80" fill="#111" stroke="none" stroke-width="1"/>
<polygon points="339.97,223.80 342.97,226.80 339.97,229.80 336.97,226.80" fill="#111" stroke="none" stroke-width="1"/>
<polygon points="339.97,248.55 342.97,251.55 339.97,254.55 336.97,251.55" fill="#111" stroke="none" stroke-width="1"/>
<polygon points="344.08,248.55 347.08,251.55 344.08,254.55 341.08,251.55" fill="#111" stroke="none" stroke-width="1"/>
<polygon points="344.08,256.80 347.08,259.80 344.08,262.80 341.08,259.80" fill="#111" stroke="none" stroke-width="1"/>
<polygon points="348.32,256.80 351.32,259.80 348.32,262.80 345.32,259.80" fill="#111" stroke="none" stroke-width="1"/>
<polygon points="348.32,273.30 351.32,276.30 348.32,279.30 345.32,276.30" fill="#111" stroke="none" stroke-width="1"/>
<polygon points="354.15,273.30 357.15,276.30 354.15,279.30 351.15,276.30" fill="#111" stroke="none" stroke-width="1"/>
<polygon points="354.15,281.55 357.15,284.55 354.15,287.55 351.15,284.55" fill="#111" stroke="none" stroke-width="1"/>
<polygon points="354.15,281.55 357.15,284.55 354.15,287.55 351.15,284.55" fill="#111" stroke="none" stroke-width="1"/>
<polygon points="354.15,289.80 357.15,292.80 354.15,295.80 351.15,292.80" fill="#111" stroke="none" stroke-width="1"/>
<polygon points="354.15,289.80 357.15,292.80 354.15,295.80 351.15,292.80" fill="#111" stroke="none" stroke-width="1"/>
<polygon points="305.39,207.20 308.18,210.30 305.39,213.40 302.60,210.30" fill="#fff" stroke="#333" stroke-width="0.9"/>
<polygon points="305.39,215.45 308.18,218.55 305.39,221.65 302.60,218.55" fill="#fff" stroke="#333" stroke-width="0.9"/>
<polygon points="311.88,215.45 314.67,218.55 311.88,221.65 309.09,218.55" fill="#fff" stroke="#333" stroke-width="0.9"/>
<polygon points="311.88,223.70 314.67,226.80 311.88,229.90 309.09,226.80" fill="#fff" stroke="#333" stroke-width="0.9"/>
<polygon points="326.46,223.70 329.25,226.80 326.46,229.90 323.67,226.80" fill="#fff" stroke="#333" stroke-width="0.9"/>
<polygon points="326.46,231.95 329.25,235.05 326.46,238.15 323.67,235.05" fill="#fff" stroke="#333" stroke-width="0.9"/>
<polygon points="328.97,231.95 331.76,235.05 328.97,238.15 326.18,235.05" fill="#fff" stroke="#333" stroke-width="0.9"/>
<polygon points="328.97,240.20 331.76,243.30 328.97,246.40 326.18,243.30" fill="#fff" stroke="#333" stroke-width="0.9"/>
<polygon points="339.57,240.20 342.37,243.30 339.57,246.40 336.78,243.30" fill="#fff" stroke="#333" stroke-width="0.9"/>
<polygon points="339.57,256.70 342.37,259.80 339.57,262.90 336.78,259.80" fill="#fff" stroke="#333" stroke-width="0.9"/>
<polygon points="340.24,256.70 343.03,259.80 340.24,262.90 337.45,259.80" fill="#fff" stroke="#333" stroke-width="0.9"/>
<polygon points="340.24,281.45 343.03,284.55 340.24,287.65 337.45,284.55" fill="#fff" stroke="#333" stroke-width="0.9"/>
<polygon points="349.51,281.45 352.30,284.55 349.51,287.65 346.72,284.55" fill="#fff" stroke="#333" stroke-width="0.9"/>
<polygon points="349.51,289.70 352.30,292.80 349.51,295.90 346.72,292.80" fill="#fff" stroke="#333" stroke-width="0.9"/>
<polygon points="349.51,289.70 352.30,292.80 349.51,295.90 346.72,292.80" fill="#fff" stroke="#333" stroke-width="0.9"/>
<text x="291.75" y="204.80" font-size="9.8" text-anchor="start" font-family='"Liberation Serif", serif' fill="#111" stroke="#111" stroke-width="0.32" textLength="77.50" lengthAdjust="spacingAndGlyphs">IL-15: DAYS 21-27</text>
<text x="289.20" y="314.80" font-size="10.9" text-anchor="start" font-family='"Liberation Serif", serif' fill="#111" stroke="#111" stroke-width="0.26" textLength="87.70" lengthAdjust="spacingAndGlyphs">DAYS AFTER BMT</text>
<text x="274.50" y="283.40" font-size="10.3" text-anchor="start" font-family='"Liberation Serif", serif' fill="#111" stroke="#111" stroke-width="0.26" textLength="57.10" lengthAdjust="spacingAndGlyphs" transform="rotate(-90 274.50 283.40)">% SURVIVAL</text>
<line x1="428.10" y1="209.90" x2="428.10" y2="292.70" stroke="#3a3a3a" stroke-width="1.1"/>
<line x1="427.60" y1="292.20" x2="512.25" y2="292.20" stroke="#3a3a3a" stroke-width="1.1"/>
<line x1="428.10" y1="292.20" x2="428.10" y2="294.80" stroke="#3a3a3a" stroke-width="1"/>
<text x="428.10" y="303.90" font-size="9.7" text-anchor="middle" font-family='"Liberation Serif", serif' fill="#111" stroke="#111" stroke-width="0.32">0</text>
<line x1="449.01" y1="292.20" x2="449.01" y2="294.80" stroke="#3a3a3a" stroke-width="1"/>
<text x="449.01" y="303.90" font-size="9.7" text-anchor="middle" font-family='"Liberation Serif", serif' fill="#111" stroke="#111" stroke-width="0.32">25</text>
<line x1="469.93" y1="292.20" x2="469.93" y2="294.80" stroke="#3a3a3a" stroke-width="1"/>
<text x="469.93" y="303.90" font-size="9.7" text-anchor="middle" font-family='"Liberation Serif", serif' fill="#111" stroke="#111" stroke-width="0.32">50</text>
<line x1="490.84" y1="292.20" x2="490.84" y2="294.80" stroke="#3a3a3a" stroke-width="1"/>
<text x="490.84" y="303.90" font-size="9.7" text-anchor="middle" font-family='"Liberation Serif", serif' fill="#111" stroke="#111" stroke-width="0.32">75</text>
<line x1="511.75" y1="292.20" x2="511.75" y2="294.80" stroke="#3a3a3a" stroke-width="1"/>
<text x="511.75" y="303.90" font-size="9.7" text-anchor="middle" font-family='"Liberation Serif", serif' fill="#111" stroke="#111" stroke-width="0.32">100</text>
<line x1="425.50" y1="292.20" x2="428.10" y2="292.20" stroke="#3a3a3a" stroke-width="1"/>
<text x="423.50" y="295.40" font-size="9.7" text-anchor="end" font-family='"Liberation Serif", serif' fill="#111" stroke="#111" stroke-width="0.32">0</text>
<line x1="425.50" y1="271.75" x2="428.10" y2="271.75" stroke="#3a3a3a" stroke-width="1"/>
<text x="423.50" y="274.95" font-size="9.7" text-anchor="end" font-family='"Liberation Serif", serif' fill="#111" stroke="#111" stroke-width="0.32">25</text>
<line x1="425.50" y1="251.30" x2="428.10" y2="251.30" stroke="#3a3a3a" stroke-width="1"/>
<text x="423.50" y="254.50" font-size="9.7" text-anchor="end" font-family='"Liberation Serif", serif' fill="#111" stroke="#111" stroke-width="0.32">50</text>
<line x1="425.50" y1="230.85" x2="428.10" y2="230.85" stroke="#3a3a3a" stroke-width="1"/>
<text x="423.50" y="234.05" font-size="9.7" text-anchor="end" font-family='"Liberation Serif", serif' fill="#111" stroke="#111" stroke-width="0.32">75</text>
<line x1="425.50" y1="210.40" x2="428.10" y2="210.40" stroke="#3a3a3a" stroke-width="1"/>
<text x="423.50" y="213.60" font-size="9.7" text-anchor="end" font-family='"Liberation Serif", serif' fill="#111" stroke="#111" stroke-width="0.32">100</text>
<polyline points="428.10,210.40 503.97,210.40" fill="none" stroke="#111" stroke-width="1.6" stroke-linejoin="miter"/>
<polyline points="428.10,210.40 458.38,210.40 458.38,219.48 458.46,219.48 458.46,228.56 464.49,228.56 464.49,237.64 471.01,237.64 471.01,246.72 490.84,246.72 490.84,255.88 496.27,255.88 496.27,264.96 502.88,264.96" fill="none" stroke="#909090" stroke-width="1.3" stroke-linejoin="miter"/>
<polyline points="428.10,210.40 434.79,210.40 434.79,228.56 436.47,228.56 436.47,237.64 438.97,237.64 438.97,246.72 452.36,246.72 452.36,255.88 455.70,255.88 455.70,264.96 462.40,264.96 462.40,274.04 503.80,274.04" fill="none" stroke="#111" stroke-width="2.2" stroke-linejoin="miter"/>
<circle cx="428.10" cy="210.40" r="2.75" fill="#111" stroke="none" stroke-width="1"/>
<circle cx="503.97" cy="210.40" r="2.75" fill="#111" stroke="none" stroke-width="1"/>
<polygon points="434.79,207.40 437.79,210.40 434.79,213.40 431.79,210.40" fill="#111" stroke="none" stroke-width="1"/>
<polygon points="434.79,225.56 437.79,228.56 434.79,231.56 431.79,228.56" fill="#111" stroke="none" stroke-width="1"/>
<polygon points="436.47,225.56 439.47,228.56 436.47,231.56 433.47,228.56" fill="#111" stroke="none" stroke-width="1"/>
<polygon points="436.47,234.64 439.47,237.64 436.47,240.64 433.47,237.64" fill="#111" stroke="none" stroke-width="1"/>
<polygon points="438.97,234.64 441.97,237.64 438.97,240.64 435.97,237.64" fill="#111" stroke="none" stroke-width="1"/>
<polygon points="438.97,243.72 441.97,246.72 438.97,249.72 435.97,246.72" fill="#111" stroke="none" stroke-width="1"/>
<polygon points="452.36,243.72 455.36,246.72 452.36,249.72 449.36,246.72" fill="#111" stroke="none" stroke-width="1"/>
<polygon points="452.36,252.88 455.36,255.88 452.36,258.88 449.36,255.88" fill="#111" stroke="none" stroke-width="1"/>
<polygon points="455.70,252.88 458.70,255.88 455.70,258.88 452.70,255.88" fill="#111" stroke="none" stroke-width="1"/>
<polygon points="455.70,261.96 458.70,264.96 455.70,267.96 452.70,264.96" fill="#111" stroke="none" stroke-width="1"/>
<polygon points="462.40,261.96 465.40,264.96 462.40,267.96 459.40,264.96" fill="#111" stroke="none" stroke-width="1"/>
<polygon points="462.40,271.04 465.40,274.04 462.40,277.04 459.40,274.04" fill="#111" stroke="none" stroke-width="1"/>
<polygon points="503.80,271.04 506.80,274.04 503.80,277.04 500.80,274.04" fill="#111" stroke="none" stroke-width="1"/>
<polygon points="458.38,207.30 461.17,210.40 458.38,213.50 455.59,210.40" fill="#fff" stroke="#333" stroke-width="0.9"/>
<polygon points="458.38,216.38 461.17,219.48 458.38,222.58 455.59,219.48" fill="#fff" stroke="#333" stroke-width="0.9"/>
<polygon points="458.46,216.38 461.25,219.48 458.46,222.58 455.67,219.48" fill="#fff" stroke="#333" stroke-width="0.9"/>
<polygon points="458.46,225.46 461.25,228.56 458.46,231.66 455.67,228.56" fill="#fff" stroke="#333" stroke-width="0.9"/>
<polygon points="464.49,225.46 467.28,228.56 464.49,231.66 461.70,228.56" fill="#fff" stroke="#333" stroke-width="0.9"/>
<polygon points="464.49,234.54 467.28,237.64 464.49,240.74 461.70,237.64" fill="#fff" stroke="#333" stroke-width="0.9"/>
<polygon points="471.01,234.54 473.80,237.64 471.01,240.74 468.22,237.64" fill="#fff" stroke="#333" stroke-width="0.9"/>
<polygon points="471.01,243.62 473.80,246.72 471.01,249.82 468.22,246.72" fill="#fff" stroke="#333" stroke-width="0.9"/>
<polygon points="490.84,243.62 493.63,246.72 490.84,249.82 488.05,246.72" fill="#fff" stroke="#333" stroke-width="0.9"/>
<polygon points="490.84,252.78 493.63,255.88 490.84,258.98 488.05,255.88" fill="#fff" stroke="#333" stroke-width="0.9"/>
<polygon points="496.27,252.78 499.06,255.88 496.27,258.98 493.48,255.88" fill="#fff" stroke="#333" stroke-width="0.9"/>
<polygon points="496.27,261.86 499.06,264.96 496.27,268.06 493.48,264.96" fill="#fff" stroke="#333" stroke-width="0.9"/>
<polygon points="502.88,261.86 505.67,264.96 502.88,268.06 500.09,264.96" fill="#fff" stroke="#333" stroke-width="0.9"/>
<text x="488.00" y="241.50" font-size="12" text-anchor="middle" font-family='"Liberation Serif", serif' fill="#111" stroke="#111" stroke-width="0.32">*</text>
<text x="428.70" y="201.50" font-size="9.8" text-anchor="start" font-family='"Liberation Serif", serif' fill="#111" stroke="#111" stroke-width="0.32" textLength="72.50" lengthAdjust="spacingAndGlyphs">IL-15: DAYS 0-10</text>
<text x="430.20" y="316.10" font-size="10.9" text-anchor="start" font-family='"Liberation Serif", serif' fill="#111" stroke="#111" stroke-width="0.26" textLength="88.40" lengthAdjust="spacingAndGlyphs">DAYS AFTER BMT</text>
<text x="408.40" y="283.40" font-size="10.3" text-anchor="start" font-family='"Liberation Serif", serif' fill="#111" stroke="#111" stroke-width="0.26" textLength="58.50" lengthAdjust="spacingAndGlyphs" transform="rotate(-90 408.40 283.40)">% SURVIVAL</text>
<line x1="97.40" y1="337.00" x2="118.60" y2="337.00" stroke="#111" stroke-width="1.5"/>
<circle cx="108.80" cy="337.00" r="2.4" fill="#111" stroke="none" stroke-width="1"/>
<text x="125.60" y="339.90" font-size="10" text-anchor="start" font-family='"Liberation Serif", serif' fill="#111" stroke="#111" stroke-width="0.32" textLength="43.20" lengthAdjust="spacingAndGlyphs">BM ONLY</text>
<line x1="176.20" y1="337.00" x2="195.80" y2="337.00" stroke="#777" stroke-width="1.3"/>
<polygon points="186.30,334.20 188.80,337.00 186.30,339.80 183.80,337.00" fill="#fff" stroke="#333" stroke-width="0.9"/>
<text x="208.90" y="339.70" font-size="10" text-anchor="start" font-family='"Liberation Serif", serif' fill="#111" stroke="#111" stroke-width="0.32" textLength="16.70" lengthAdjust="spacingAndGlyphs">PBS</text>
<line x1="253.50" y1="337.70" x2="274.90" y2="337.70" stroke="#111" stroke-width="1.8"/>
<polygon points="264.30,335.10 266.90,337.70 264.30,340.30 261.70,337.70" fill="#111" stroke="none" stroke-width="1"/>
<text x="284.60" y="340.00" font-size="10" text-anchor="start" font-family='"Liberation Serif", serif' fill="#111" stroke="#111" stroke-width="0.32" textLength="21.20" lengthAdjust="spacingAndGlyphs">IL-15</text>
<text x="332" y="340" font-size="10" font-family='"Liberation Serif", serif' fill="#111">*: <tspan font-style="italic">P</tspan>&lt; .05</text>
</svg>
</body></html>
